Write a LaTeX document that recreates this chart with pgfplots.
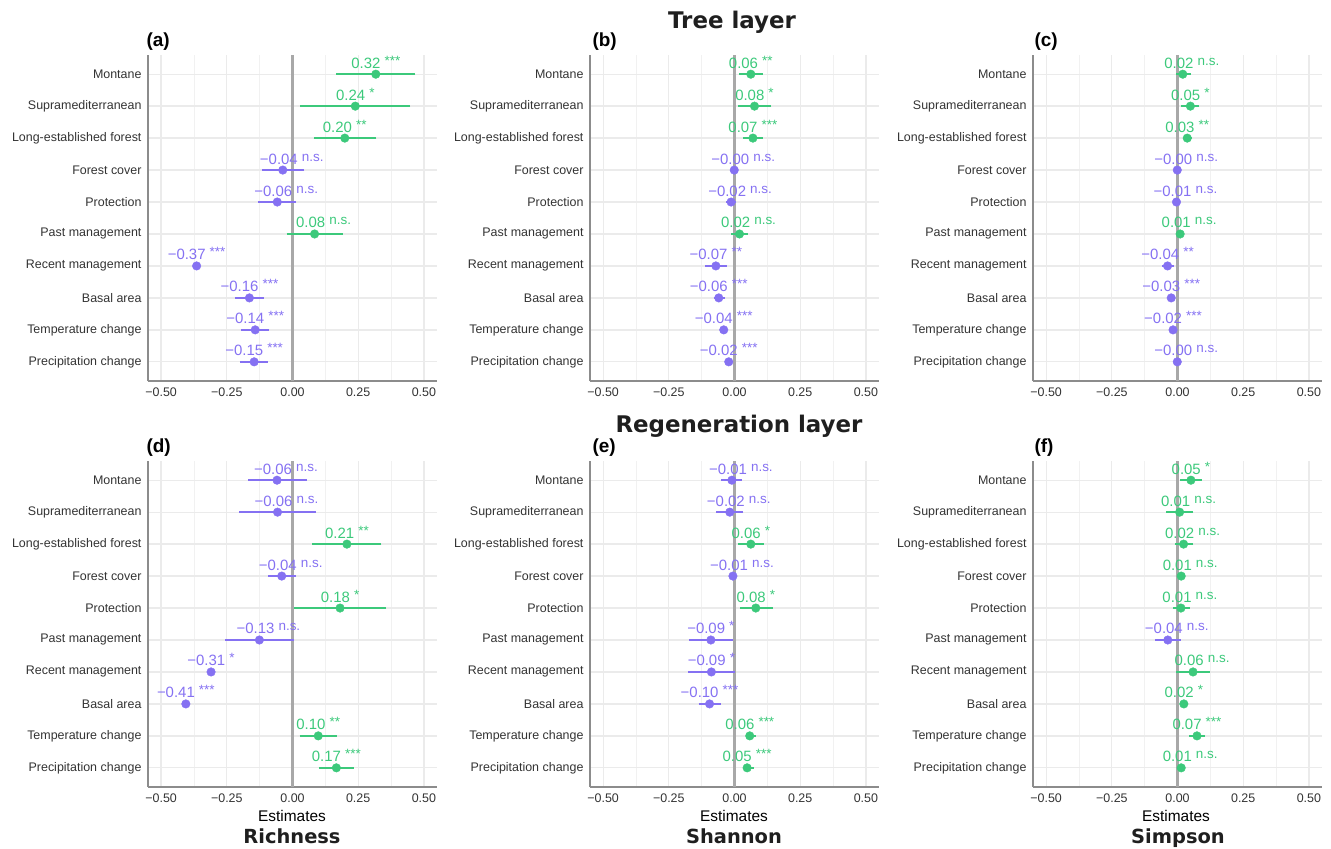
\documentclass[border=0pt]{standalone}
\usepackage{fontspec}
\setmainfont{Liberation Sans}
\newfontfamily\titlefont{DejaVu Sans}
\usepackage{pgfplots}
\usepackage{pgfplotstable}
\pgfplotsset{compat=1.18}

\definecolor{cpos}{HTML}{3CC97B}
\definecolor{cneg}{HTML}{8571F2}
\definecolor{gridc}{HTML}{EBEBEB}
\definecolor{axc}{HTML}{8C8C8C}
\definecolor{zeroc}{HTML}{A8A8A8}

\newcommand{\supx}[1]{\raisebox{3bp}{\fontsize{13.5}{13.5}\selectfont #1}}
\newcommand{\ls}[2]{#1 \supx{#2}}
\newcommand{\lns}[1]{\hspace*{18bp}#1 \supx{n.s.}}

\pgfplotstableread[col sep=comma]{
y,est,lo,hi,s,lab
10,0.317,0.167,0.468,1,\ls{0.32}{***}
9,0.239,0.029,0.449,1,\ls{0.24}{*}
8,0.199,0.080,0.319,1,\ls{0.20}{**}
7,-0.037,-0.115,0.045,0,\lns{−0.04}
6,-0.058,-0.130,0.014,0,\lns{−0.06}
5,0.084,-0.022,0.191,1,\lns{0.08}
4,-0.365,-0.375,-0.355,0,\ls{−0.37}{***}
3,-0.164,-0.219,-0.108,0,\ls{−0.16}{***}
2,-0.142,-0.196,-0.088,0,\ls{−0.14}{***}
1,-0.146,-0.200,-0.094,0,\ls{−0.15}{***}
}\tA
\pgfplotstableread[col sep=comma]{
y,est,lo,hi,s,lab
10,0.062,0.018,0.108,1,\ls{0.06}{**}
9,0.076,0.014,0.140,1,\ls{0.08}{*}
8,0.070,0.034,0.108,1,\ls{0.07}{***}
7,-0.001,-0.008,0.006,0,\lns{−0.00}
6,-0.013,-0.032,0.006,0,\lns{−0.02}
5,0.019,-0.013,0.050,1,\lns{0.02}
4,-0.071,-0.112,-0.029,0,\ls{−0.07}{**}
3,-0.060,-0.080,-0.036,0,\ls{−0.06}{***}
2,-0.041,-0.052,-0.029,0,\ls{−0.04}{***}
1,-0.022,-0.029,-0.014,0,\ls{−0.02}{***}
}\tB
\pgfplotstableread[col sep=comma]{
y,est,lo,hi,s,lab
10,0.020,-0.004,0.050,1,\lns{0.02}
9,0.049,0.012,0.083,1,\ls{0.05}{*}
8,0.037,0.019,0.056,1,\ls{0.03}{**}
7,-0.001,-0.006,0.004,0,\lns{−0.00}
6,-0.004,-0.009,0.002,0,\lns{−0.01}
5,0.010,-0.003,0.024,1,\lns{0.01}
4,-0.038,-0.058,-0.013,0,\ls{−0.04}{**}
3,-0.024,-0.033,-0.015,0,\ls{−0.03}{***}
2,-0.017,-0.026,-0.008,0,\ls{−0.02}{***}
1,-0.001,-0.005,0.003,0,\lns{−0.00}
}\tC
\pgfplotstableread[col sep=comma]{
y,est,lo,hi,s,lab
10,-0.059,-0.168,0.055,0,\lns{−0.06}
9,-0.057,-0.202,0.089,0,\lns{−0.06}
8,0.207,0.076,0.338,1,\ls{0.21}{**}
7,-0.041,-0.094,0.013,0,\lns{−0.04}
6,0.181,0.006,0.356,1,\ls{0.18}{*}
5,-0.126,-0.256,0.004,0,\lns{−0.13}
4,-0.310,-0.318,-0.302,0,\ls{−0.31}{*}
3,-0.406,-0.414,-0.398,0,\ls{−0.41}{***}
2,0.098,0.027,0.169,1,\ls{0.10}{**}
1,0.167,0.100,0.233,1,\ls{0.17}{***}
}\tD
\pgfplotstableread[col sep=comma]{
y,est,lo,hi,s,lab
10,-0.010,-0.051,0.028,0,\lns{−0.01}
9,-0.018,-0.069,0.034,0,\lns{−0.02}
8,0.062,0.014,0.112,1,\ls{0.06}{*}
7,-0.006,-0.011,-0.001,0,\lns{−0.01}
6,0.081,0.019,0.146,1,\ls{0.08}{*}
5,-0.090,-0.174,-0.005,0,\ls{−0.09}{*}
4,-0.088,-0.177,0.003,0,\ls{−0.09}{*}
3,-0.095,-0.137,-0.053,0,\ls{−0.10}{***}
2,0.058,0.042,0.081,1,\ls{0.06}{***}
1,0.048,0.034,0.075,1,\ls{0.05}{***}
}\tE
\pgfplotstableread[col sep=comma]{
y,est,lo,hi,s,lab
10,0.051,0.011,0.092,1,\ls{0.05}{*}
9,0.008,-0.042,0.060,1,\lns{0.01}
8,0.023,-0.011,0.060,1,\lns{0.02}
7,0.014,0.010,0.018,1,\lns{0.01}
6,0.013,-0.019,0.047,1,\lns{0.01}
5,-0.037,-0.084,0.013,0,\lns{−0.04}
4,0.059,-0.005,0.124,1,\lns{0.06}
3,0.024,0.019,0.029,1,\ls{0.02}{*}
2,0.074,0.045,0.105,1,\ls{0.07}{***}
1,0.014,0.010,0.018,1,\lns{0.01}
}\tF

\pgfplotsset{
  forest/.style={
    width=289bp, height=326bp, scale only axis,
    xmin=-0.55, xmax=0.55, ymin=0.4, ymax=10.6,
    xtick={-0.5,-0.25,0,0.25,0.5},
    xticklabels={−0.50,−0.25,0.00,0.25,0.50},
    minor xtick={-0.375,-0.125,0.125,0.375},
    ytick={1,2,3,4,5,6,7,8,9,10},
    yticklabels={Precipitation change,Temperature change,Basal area,Recent management,Past management,Protection,Forest cover,Long-established forest,Supramediterranean,Montane},
    xmajorgrids, xminorgrids, ymajorgrids,
    major grid style={gridc, line width=1.3bp},
    minor grid style={gridc!70, line width=0.9bp},
    axis x line*=bottom, axis y line*=left,
    axis line style={axc, line width=1.5bp, -},
    major tick length=0pt, minor tick length=0pt,
    tick label style={font=\fontsize{12.5}{14}\selectfont, text=black!80},
    xticklabel style={yshift=-3bp},
    yticklabel style={xshift=-3bp},
    clip=false,
  },
  pts/.style={only marks, mark=*, mark size=4.3bp, draw=#1, fill=#1,
    mark options={draw=#1, fill=#1},
    error bars/.cd, x dir=both, x explicit, error mark=none,
      error bar style={line width=2.3bp, draw=#1},
    /pgfplots/.cd,
    nodes near coords, point meta=explicit symbolic,
    every node near coord/.append style={anchor=base, yshift=6bp, inner sep=0pt,
      text=#1, font=\fontsize{15}{15}\selectfont},
  },
}

\newcommand{\panel}[2]{%
  \begin{axis}[forest, at={(#1)}, anchor=south west]
    \addplot[zeroc, line width=3bp, forget plot] coordinates {(0,0.4) (0,10.6)};
    \addplot[pts=cpos, restrict expr to domain={\thisrow{s}}{0.5:1.5}] table[x=est, y=y,
      x error minus expr=\thisrow{est}-\thisrow{lo},
      x error plus expr=\thisrow{hi}-\thisrow{est}, meta=lab] {#2};
    \addplot[pts=cneg, restrict expr to domain={\thisrow{s}}{-0.5:0.5}] table[x=est, y=y,
      x error minus expr=\thisrow{est}-\thisrow{lo},
      x error plus expr=\thisrow{hi}-\thisrow{est}, meta=lab] {#2};
  \end{axis}
}

\begin{document}
\begin{tikzpicture}[x=1bp,y=1bp]
\useasboundingbox (0,0) rectangle (1331,-848);
\panel{148bp,-381bp}{\tA}
\panel{590bp,-381bp}{\tB}
\panel{1033bp,-381bp}{\tC}
\panel{148bp,-787bp}{\tD}
\panel{590bp,-787bp}{\tE}
\panel{1033bp,-787bp}{\tF}

\begin{scope}[every node/.style={anchor=base west, font=\bfseries\fontsize{19}{19}\selectfont}]
\node at (143,-46) {(a)};
\node at (589,-46) {(b)};
\node at (1031,-46) {(c)};
\node at (143,-452) {(d)};
\node at (589,-452) {(e)};
\node at (1031,-452) {(f)};
\end{scope}

\begin{scope}[every node/.style={anchor=base, font=\titlefont\bfseries\fontsize{23}{23}\selectfont, text=black!88}]
\node at (732,-28) {Tree layer};
\node at (739,-432) {Regeneration layer};
\end{scope}
\begin{scope}[every node/.style={anchor=base, font=\titlefont\bfseries\fontsize{19.5}{20}\selectfont, text=black!88}]
\node at (292,-843) {Richness};
\node at (734,-843) {Shannon};
\node at (1178,-843) {Simpson};
\end{scope}
\begin{scope}[every node/.style={anchor=base, font=\fontsize{15.5}{16}\selectfont}]
\node at (292,-821) {Estimates};
\node at (734,-821) {Estimates};
\node at (1176,-821) {Estimates};
\end{scope}
\end{tikzpicture}
\end{document}
